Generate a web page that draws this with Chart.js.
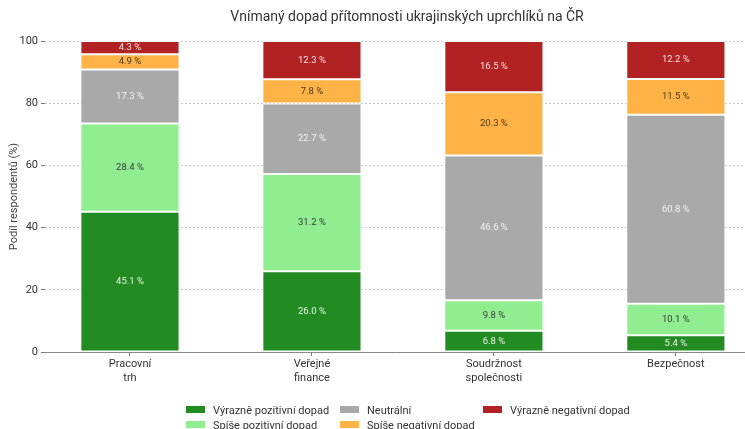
<!DOCTYPE html>
<html>
<head>
<meta charset="utf-8">
<script src="https://cdn.jsdelivr.net/npm/chart.js@4"></script>
<style>
  html, body { margin: 0; padding: 0; background: #fff; overflow: hidden; }
  #wrap { position: relative; width: 745px; height: 429px; font-family: Roboto, "Noto Sans", sans-serif; }
  #title { position: absolute; top: 8px; left: 0; width: 814px; text-align: center; font-size: 14px; color: #333; }
  .lg { position: absolute; font-size: 11px; color: #333; white-space: nowrap; line-height: 14px; }
  .lg i { display: inline-block; width: 19px; height: 7px; margin-right: 8px; vertical-align: 1px; }
  canvas { position: absolute; left: 0; top: 0; }
</style>
</head>
<body>
<div id="wrap">
  <canvas id="c" width="745" height="429"></canvas>
  <div id="title">Vnímaný dopad přítomnosti ukrajinských uprchlíků na ČR</div>
  <div id="legend"></div>
</div>
<script>
const categories = [["Pracovní", "trh"], ["Veřejné", "finance"], ["Soudržnost", "společnosti"], ["Bezpečnost"]];
const seriesNames = ["Výrazně pozitivní dopad", "Spíše pozitivní dopad", "Neutrální", "Spíše negativní dopad", "Výrazně negativní dopad"];
const vyraznePozitivni = [45.1, 26.0, 6.8, 5.4];
const spisePozitivni = [28.4, 31.2, 9.8, 10.1];
const neutralni = [17.3, 22.7, 46.6, 60.8];
const spiseNegativni = [4.9, 7.8, 20.3, 11.5];
const vyrazneNegativni = [4.3, 12.3, 16.5, 12.2];
const yTicks = [0, 20, 40, 60, 80, 100];

const seriesValues = [vyraznePozitivni, spisePozitivni, neutralni, spiseNegativni, vyrazneNegativni];
const colors = ["#228B22", "#90EE90", "#A9A9A9", "#FFB347", "#B22222"];
const labelColors = ["rgba(255,255,255,0.9)", "#3a3a3a", "rgba(255,255,255,0.85)", "#4a3a1a", "rgba(255,255,255,0.85)"];

const datasets = seriesNames.map((name, s) => ({
  label: name,
  data: seriesValues[s].map((v, i) => ({ x: i, y: v })),
  backgroundColor: colors[s],
  borderColor: "#ffffff",
  borderWidth: 1,
  borderSkipped: false,
  barPercentage: 0.545,
  categoryPercentage: 1.0
}));

const valueLabels = {
  id: "valueLabels",
  afterDatasetsDraw(chart) {
    const ctx = chart.ctx;
    ctx.save();
    ctx.font = "9.5px Roboto, 'Noto Sans', sans-serif";
    ctx.textAlign = "center";
    ctx.textBaseline = "middle";
    chart.data.datasets.forEach((ds, s) => {
      const meta = chart.getDatasetMeta(s);
      meta.data.forEach((bar, i) => {
        const p = bar.getProps(["x", "y", "base"], true);
        ctx.fillStyle = labelColors[s];
        ctx.fillText(seriesValues[s][i].toFixed(1) + " %", p.x, (p.y + p.base) / 2);
      });
    });
    ctx.restore();
  }
};

new Chart(document.getElementById("c"), {
  type: "bar",
  data: { datasets },
  plugins: [valueLabels],
  options: {
    responsive: false,
    animation: false,
    layout: { padding: { top: 41, right: 0, left: 0, bottom: 0 } },
    plugins: { legend: { display: false }, title: { display: false }, tooltip: { enabled: false } },
    scales: {
      x: {
        type: "linear",
        stacked: true,
        offset: false,
        min: -0.467,
        max: 3.38,
        afterBuildTicks: (scale) => { scale.ticks = categories.map((c, i) => ({ value: i })); },
        afterFit: (scale) => { scale.height = 77; },
        ticks: {
          callback: (v) => categories[v],
          color: "#333",
          font: { family: "Roboto", size: 11 },
          padding: 2,
          maxRotation: 0,
          autoSkip: false
        },
        grid: { display: true, offset: false, drawOnChartArea: false, drawTicks: true, tickLength: 4, color: "#777" },
        border: { display: true, color: "#888", width: 1 }
      },
      y: {
        stacked: true,
        min: 0,
        max: 100,
        afterBuildTicks: (scale) => { scale.ticks = yTicks.map(v => ({ value: v })); },
        afterFit: (scale) => { scale.width = 45; },
        ticks: { color: "#333", font: { family: "Roboto", size: 11 }, padding: 3 },
        grid: { color: "#c8c8c8", lineWidth: 1, tickLength: 4, tickColor: "#777", tickBorderDash: [0, 0], drawTicks: true },
        border: { display: false, dash: [2, 2] },
        title: { display: true, text: "Podíl respondentů (%)", color: "#444", font: { family: "Roboto", size: 11 }, padding: { top: 8, bottom: 0 } }
      }
    }
  }
});

// legend in three columns (column-major order)
const legendPos = [[186, 404], [186, 419], [340, 404], [340, 419], [483, 404]];
const lg = document.getElementById("legend");
seriesNames.forEach((name, s) => {
  const d = document.createElement("div");
  d.className = "lg";
  d.style.left = legendPos[s][0] + "px";
  d.style.top = legendPos[s][1] + "px";
  d.innerHTML = '<i style="background:' + colors[s] + '"></i>' + name;
  lg.appendChild(d);
});
</script>
</body>
</html>
